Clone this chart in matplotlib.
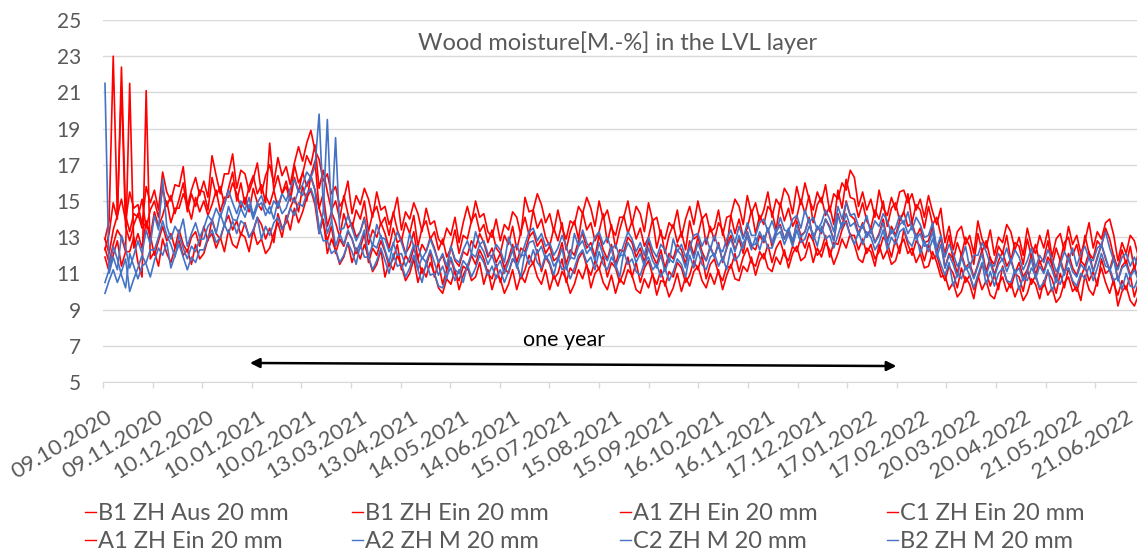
import numpy as np
import matplotlib
matplotlib.use("Agg")
import matplotlib.pyplot as plt
from matplotlib.lines import Line2D
from matplotlib.ticker import FixedLocator, NullFormatter

plt.rcParams['font.family'] = ['Lato', 'DejaVu Sans']

# readings every 2.5 days starting 09.10.2020
step_days = 2.5
tick_labels = ['09.10.2020', '09.11.2020', '10.12.2020', '10.01.2021', '10.02.2021',
               '13.03.2021', '13.04.2021', '14.05.2021', '14.06.2021', '15.07.2021',
               '15.08.2021', '15.09.2021', '16.10.2021', '16.11.2021', '17.12.2021',
               '17.01.2022', '17.02.2022', '20.03.2022', '20.04.2022', '21.05.2022',
               '21.06.2022']
label_step = 31

names = ['B1 ZH Aus 20 mm', 'B1 ZH Ein 20 mm', 'A1 ZH Ein 20 mm', 'C1 ZH Ein 20 mm',
         'A1 ZH Ein 20 mm', 'A2 ZH M 20 mm', 'C2 ZH M 20 mm', 'B2 ZH M 20 mm']

b1_aus = [12.9, 13.9, 23.0, 14.2, 15.1, 13.9, 15.5, 14.6, 14.8, 13.7, 15.8, 14.9,
          15.6, 14.5, 16.6, 15.5, 15.0, 15.9, 15.8, 16.9, 14.7, 15.6, 16.3, 15.3,
          16.1, 15.2, 17.5, 16.4, 15.4, 16.5, 16.5, 17.6, 15.7, 16.7, 16.5, 15.5,
          16.2, 17.1, 15.4, 16.4, 17.0, 16.0, 17.4, 16.4, 16.9, 15.9, 17.1, 18.0,
          17.2, 18.2, 18.9, 17.8, 17.3, 16.1, 16.5, 15.4, 15.8, 14.7, 15.1, 16.1,
          14.3, 15.3, 14.8, 15.7, 15.1, 14.1, 15.5, 14.5, 14.7, 13.7, 14.2, 15.2,
          13.4, 14.4, 14.0, 14.9, 14.3, 13.3, 14.6, 13.7, 13.9, 12.9, 12.6, 13.5,
          13.1, 14.1, 12.7, 13.8, 14.7, 13.8, 15.0, 14.1, 14.3, 13.3, 13.0, 14.0,
          12.8, 13.7, 13.4, 14.4, 14.1, 13.1, 15.2, 14.4, 14.5, 15.4, 14.8, 13.8,
          14.3, 13.3, 14.5, 13.5, 12.9, 13.9, 13.7, 14.7, 14.3, 15.2, 14.6, 13.6,
          15.0, 14.0, 14.5, 13.5, 13.1, 14.1, 14.1, 15.0, 13.7, 14.7, 14.3, 13.3,
          14.9, 13.9, 14.1, 13.1, 12.9, 13.8, 13.5, 14.5, 13.0, 14.0, 14.7, 13.7,
          15.0, 14.0, 14.3, 13.3, 13.5, 14.5, 13.1, 14.1, 14.2, 15.1, 14.7, 13.7,
          15.3, 14.3, 14.9, 13.9, 14.5, 15.5, 14.1, 15.1, 14.7, 15.7, 15.3, 14.3,
          15.8, 14.8, 16.0, 15.1, 14.5, 15.5, 14.9, 15.9, 14.4, 15.4, 15.1, 16.0,
          15.6, 16.7, 16.3, 14.7, 15.5, 14.5, 15.1, 14.1, 15.6, 14.6, 14.2, 15.2,
          14.5, 15.5, 15.6, 14.9, 15.4, 14.5, 15.1, 14.1, 15.3, 14.4, 13.7, 14.6,
          12.7, 13.6, 12.3, 13.3, 13.6, 12.6, 13.1, 12.1, 13.9, 12.9, 12.4, 13.4,
          12.0, 13.0, 12.7, 13.7, 13.3, 12.3, 13.0, 12.0, 13.5, 12.5, 12.1, 13.1,
          12.4, 13.4, 11.9, 12.9, 13.2, 12.2, 13.6, 12.6, 13.1, 12.1, 12.8, 13.8,
          12.4, 13.3, 12.9, 13.8, 14.0, 13.1, 11.7, 12.7, 12.1, 13.1, 12.8, 11.9]

b1_ein = [12.3, 13.2, 14.9, 14.0, 22.4, 14.2, 13.3, 14.3, 14.1, 15.1, 13.5, 14.5,
          15.0, 14.1, 15.7, 14.7, 15.3, 14.3, 15.1, 16.0, 14.4, 15.4, 14.7, 15.6,
          15.5, 14.5, 16.3, 15.3, 15.8, 14.8, 15.7, 16.6, 15.0, 16.0, 14.8, 15.8,
          16.4, 15.4, 15.9, 14.9, 18.2, 15.6, 16.4, 15.4, 16.1, 15.1, 17.0, 16.0,
          16.5, 17.5, 17.0, 18.1, 15.7, 16.7, 15.5, 14.5, 15.0, 14.0, 15.3, 14.3,
          13.5, 14.5, 14.0, 15.0, 13.3, 14.3, 14.7, 13.7, 14.1, 13.1, 14.4, 13.4,
          12.8, 13.8, 13.2, 14.2, 12.5, 13.5, 13.9, 12.9, 13.3, 12.3, 12.9, 11.9,
          12.4, 13.4, 12.1, 13.1, 12.9, 13.9, 14.3, 13.3, 13.7, 12.7, 13.4, 12.4,
          12.1, 13.1, 12.6, 13.6, 12.3, 13.3, 14.1, 13.1, 14.5, 13.5, 14.0, 13.0,
          12.5, 13.5, 12.8, 13.8, 12.3, 13.3, 13.9, 12.9, 14.4, 13.4, 13.8, 12.8,
          13.3, 14.3, 12.7, 13.7, 12.4, 13.4, 14.2, 13.2, 13.9, 12.9, 13.5, 12.5,
          13.0, 14.0, 12.4, 13.4, 12.1, 13.1, 13.7, 12.7, 13.3, 12.3, 13.9, 12.9,
          13.1, 14.1, 12.6, 13.6, 12.8, 13.8, 13.4, 12.4, 14.2, 13.2, 14.0, 13.0,
          13.5, 14.5, 13.2, 14.2, 13.7, 14.7, 14.4, 13.4, 14.9, 13.9, 14.6, 13.6,
          14.1, 15.1, 14.3, 15.3, 13.8, 14.8, 15.2, 14.2, 14.7, 13.7, 15.6, 14.6,
          16.2, 15.2, 15.1, 14.1, 14.9, 13.9, 13.5, 14.5, 14.0, 15.0, 13.6, 14.6,
          14.9, 13.9, 14.4, 15.4, 13.8, 14.8, 14.5, 13.5, 14.7, 13.7, 14.1, 13.1,
          12.1, 13.1, 11.7, 12.7, 12.0, 13.0, 12.5, 11.5, 13.2, 12.2, 12.8, 11.8,
          11.5, 12.5, 12.1, 13.1, 11.7, 12.7, 12.5, 11.5, 12.9, 11.9, 12.6, 11.6,
          11.8, 12.8, 11.4, 12.4, 11.7, 12.7, 13.0, 12.0, 12.6, 11.6, 13.1, 12.1,
          11.8, 12.8, 12.5, 13.5, 12.9, 11.9, 11.3, 12.3, 11.5, 12.5, 11.2, 12.2]

a1_ein = [12.9, 12.1, 13.4, 14.2, 21.3, 13.6, 12.8, 13.7, 14.3, 13.5, 13.8, 13.0,
          14.4, 13.6, 14.2, 15.0, 13.8, 14.6, 14.6, 15.4, 14.8, 14.0, 15.2, 14.4,
          15.0, 14.2, 14.8, 15.6, 14.4, 15.2, 15.2, 16.0, 15.4, 14.6, 15.2, 14.4,
          15.7, 14.9, 14.5, 15.3, 14.8, 15.6, 14.6, 15.4, 15.8, 15.0, 16.3, 15.5,
          16.6, 15.8, 16.4, 17.2, 14.6, 15.4, 13.6, 14.4, 13.8, 13.0, 14.3, 13.5,
          13.8, 13.0, 13.3, 14.1, 12.6, 13.4, 13.0, 13.8, 13.2, 12.4, 13.5, 12.7,
          12.9, 12.1, 12.5, 13.3, 11.8, 12.6, 12.2, 13.0, 12.4, 11.6, 12.0, 11.2,
          12.5, 11.7, 11.4, 12.2, 12.0, 12.8, 12.4, 13.2, 12.7, 11.9, 12.4, 11.6,
          12.1, 11.3, 11.8, 12.6, 11.6, 12.4, 12.2, 13.0, 13.3, 12.5, 12.9, 12.1,
          12.5, 11.7, 11.9, 12.7, 11.5, 12.3, 12.0, 12.8, 13.2, 12.4, 12.7, 11.9,
          13.1, 12.3, 11.8, 12.6, 11.5, 12.3, 12.2, 13.0, 12.7, 11.9, 12.4, 11.6,
          12.8, 12.0, 11.5, 12.3, 11.3, 12.1, 11.8, 12.6, 12.3, 11.5, 12.8, 12.0,
          13.0, 12.2, 11.7, 12.5, 11.9, 12.7, 11.6, 12.4, 13.1, 12.3, 12.9, 12.1,
          13.3, 12.5, 12.3, 13.1, 12.7, 13.5, 12.5, 13.3, 13.7, 12.9, 13.4, 12.6,
          13.9, 13.1, 13.3, 14.1, 12.8, 13.6, 13.2, 14.0, 13.6, 12.8, 14.3, 13.5,
          15.0, 14.2, 14.0, 13.2, 13.8, 13.0, 13.5, 12.7, 13.2, 14.0, 12.8, 13.6,
          13.1, 13.9, 14.4, 13.6, 13.8, 13.0, 13.5, 12.7, 12.8, 13.6, 12.2, 13.0,
          11.3, 12.1, 11.8, 11.0, 12.1, 11.3, 11.6, 10.8, 11.5, 12.3, 11.1, 11.9,
          10.9, 11.7, 12.2, 11.4, 11.8, 11.0, 11.6, 10.8, 11.2, 12.0, 10.9, 11.7,
          11.1, 11.9, 11.5, 10.7, 11.8, 11.0, 12.1, 11.3, 10.9, 11.7, 11.4, 12.2,
          11.1, 11.9, 12.6, 11.8, 11.2, 12.0, 10.6, 11.4, 11.7, 10.9, 11.4, 10.6]

c1_ein = [12.4, 11.6, 12.6, 13.4, 13.0, 12.2, 21.5, 12.4, 13.2, 12.4, 13.9, 13.1,
          12.0, 12.8, 13.6, 12.8, 13.2, 12.4, 13.4, 12.6, 12.2, 13.0, 13.3, 12.5,
          13.6, 12.8, 14.0, 13.2, 12.9, 13.7, 14.2, 13.4, 13.9, 13.1, 13.8, 13.0,
          13.3, 14.1, 13.7, 12.9, 13.5, 12.7, 14.3, 13.5, 13.8, 14.6, 15.2, 14.4,
          15.8, 15.0, 16.4, 15.6, 14.6, 13.8, 12.8, 13.6, 12.1, 12.9, 12.5, 13.3,
          12.9, 12.1, 12.4, 13.2, 11.6, 12.4, 12.0, 12.8, 12.2, 11.4, 11.8, 12.6,
          11.2, 12.0, 11.6, 12.4, 11.8, 11.0, 11.4, 12.2, 10.8, 11.6, 10.4, 11.2,
          11.8, 11.0, 10.6, 11.4, 11.2, 12.0, 11.5, 12.3, 11.8, 11.0, 10.7, 11.5,
          10.5, 11.3, 11.0, 11.8, 11.5, 10.7, 11.2, 12.0, 11.5, 12.3, 11.1, 11.9,
          11.5, 10.7, 11.0, 11.8, 10.5, 11.3, 11.0, 11.8, 12.2, 11.4, 10.9, 11.7,
          11.2, 12.0, 10.8, 11.6, 11.3, 10.5, 11.1, 11.9, 10.8, 11.6, 10.5, 11.3,
          11.7, 10.9, 10.4, 11.2, 10.3, 11.1, 10.8, 11.6, 11.3, 10.5, 10.9, 11.7,
          11.2, 12.0, 10.7, 11.5, 11.8, 11.0, 10.6, 11.4, 11.3, 12.1, 11.1, 11.9,
          12.4, 11.6, 11.4, 12.2, 11.8, 12.6, 11.6, 12.4, 12.8, 12.0, 11.7, 12.5,
          12.2, 13.0, 12.4, 13.2, 12.8, 12.0, 12.3, 13.1, 11.9, 12.7, 12.6, 13.4,
          13.9, 13.1, 13.1, 12.3, 12.9, 12.1, 12.6, 11.8, 12.2, 13.0, 12.7, 11.9,
          12.9, 12.1, 13.4, 12.6, 12.0, 12.8, 12.5, 11.7, 12.6, 11.8, 12.0, 11.2,
          10.6, 11.4, 11.0, 10.2, 11.3, 10.5, 10.9, 10.1, 10.7, 11.5, 11.1, 10.3,
          10.9, 10.1, 11.4, 10.6, 10.2, 11.0, 10.8, 10.0, 11.2, 10.4, 10.9, 10.1,
          10.3, 11.1, 10.7, 9.9, 11.0, 10.2, 11.3, 10.5, 10.0, 10.8, 11.4, 10.6,
          11.1, 10.3, 11.8, 11.0, 11.2, 10.4, 9.8, 10.6, 10.1, 10.9, 9.7, 10.5]

a1_ein_2 = [11.9, 11.1, 12.0, 12.8, 11.4, 12.2, 12.2, 13.0, 11.6, 10.8, 21.1, 11.8,
            12.2, 11.4, 12.9, 12.1, 11.6, 12.4, 12.8, 12.0, 12.3, 11.5, 12.6, 11.8,
            12.1, 12.9, 13.2, 12.4, 13.0, 12.2, 13.4, 12.6, 12.4, 13.2, 13.0, 12.2,
            13.4, 12.6, 12.9, 12.1, 12.4, 13.2, 13.8, 13.0, 14.2, 13.4, 14.6, 13.8,
            14.4, 15.2, 15.6, 14.8, 13.2, 14.0, 12.1, 12.9, 12.3, 11.5, 11.9, 12.7,
            11.6, 12.4, 11.8, 12.6, 11.9, 11.1, 11.5, 12.3, 10.8, 11.6, 11.2, 12.0,
            11.4, 10.6, 11.0, 11.8, 10.5, 11.3, 10.8, 11.6, 11.0, 10.2, 9.9, 10.7,
            10.4, 11.2, 10.1, 10.9, 11.4, 10.6, 10.8, 11.6, 10.4, 11.2, 10.1, 10.9,
            10.7, 9.9, 10.4, 11.2, 10.1, 10.9, 10.5, 11.3, 11.6, 10.8, 10.4, 11.2,
            10.1, 10.9, 10.3, 11.1, 10.7, 9.9, 10.4, 11.2, 10.7, 11.5, 10.2, 11.0,
            11.3, 10.5, 10.1, 10.9, 9.9, 10.7, 10.4, 11.2, 10.9, 10.1, 9.9, 10.7,
            10.2, 11.0, 9.8, 10.6, 10.5, 9.7, 10.2, 11.0, 10.0, 10.8, 10.3, 11.1,
            11.4, 10.6, 10.2, 11.0, 10.4, 11.2, 10.1, 10.9, 11.5, 10.7, 10.6, 11.4,
            11.1, 11.9, 10.9, 11.7, 12.1, 11.3, 11.1, 11.9, 11.5, 12.3, 11.3, 12.1,
            12.5, 11.7, 11.9, 12.7, 11.6, 12.4, 11.9, 12.7, 12.3, 11.5, 12.1, 12.9,
            12.4, 13.2, 12.6, 11.8, 11.6, 12.4, 12.2, 11.4, 12.6, 11.8, 12.3, 11.5,
            11.7, 12.5, 12.9, 12.1, 12.4, 11.6, 12.1, 11.3, 11.4, 12.2, 11.6, 10.8,
            10.9, 10.1, 10.5, 9.7, 10.0, 10.8, 10.4, 9.6, 10.9, 10.1, 10.6, 9.8,
            9.6, 10.4, 10.8, 10.0, 10.5, 9.7, 10.3, 9.5, 9.9, 10.7, 10.4, 9.6,
            10.6, 9.8, 10.2, 9.4, 9.7, 10.5, 10.8, 10.0, 10.3, 9.5, 10.9, 10.1,
            9.8, 10.6, 11.3, 10.5, 9.9, 10.7, 9.2, 10.0, 10.3, 9.5, 9.2, 9.8]

a2_m = [21.5, 11.0, 11.9, 11.2, 13.1, 12.4, 11.3, 12.0, 12.8, 12.1, 13.4, 12.6,
        14.2, 13.4, 16.2, 13.6, 12.9, 13.6, 13.2, 14.0, 12.5, 13.2, 13.8, 13.0,
        13.5, 14.2, 13.9, 14.6, 14.1, 14.8, 15.6, 14.9, 14.3, 15.0, 14.5, 15.2,
        14.2, 14.9, 15.3, 14.6, 14.3, 15.0, 14.7, 15.4, 15.0, 15.7, 16.2, 15.5,
        15.9, 16.6, 16.3, 16.9, 19.8, 14.8, 13.2, 13.9, 18.5, 13.4, 13.5, 14.2,
        13.5, 12.8, 13.3, 14.0, 13.2, 12.5, 13.7, 13.0, 12.9, 12.2, 12.6, 13.3,
        12.7, 12.0, 13.2, 12.5, 12.5, 11.8, 12.2, 12.9, 12.3, 11.6, 12.1, 11.4,
        12.5, 11.8, 11.6, 12.3, 12.8, 12.1, 13.3, 12.6, 12.8, 12.1, 11.9, 12.6,
        12.3, 11.6, 13.0, 12.3, 12.6, 11.9, 12.6, 13.3, 13.5, 12.8, 13.2, 12.5,
        12.7, 12.0, 12.4, 13.1, 12.5, 11.8, 13.2, 12.5, 13.4, 12.7, 12.3, 13.0,
        13.3, 12.6, 13.0, 12.3, 12.6, 11.9, 12.6, 13.3, 12.9, 12.2, 12.7, 12.0,
        13.0, 12.3, 11.9, 12.6, 12.3, 11.6, 12.9, 12.2, 12.6, 11.9, 12.4, 13.1,
        13.2, 12.5, 13.0, 12.3, 13.1, 12.4, 12.2, 12.9, 13.4, 12.7, 13.6, 12.9,
        13.8, 13.1, 13.1, 13.8, 14.0, 13.3, 13.9, 13.2, 14.1, 13.4, 13.3, 14.0,
        14.2, 13.5, 14.5, 13.8, 14.1, 13.4, 13.8, 14.5, 14.0, 13.3, 14.7, 14.0,
        14.9, 14.2, 14.3, 13.6, 13.5, 14.2, 13.2, 13.9, 13.6, 14.3, 13.9, 13.2,
        13.5, 14.2, 13.7, 14.4, 13.4, 14.1, 13.7, 13.0, 13.1, 13.8, 12.4, 13.1,
        11.9, 12.6, 12.1, 11.4, 11.8, 12.5, 11.3, 12.0, 12.0, 12.7, 12.2, 11.5,
        11.4, 12.1, 11.7, 12.4, 11.6, 12.3, 11.9, 11.2, 11.7, 12.4, 11.3, 12.0,
        11.6, 12.3, 11.8, 11.1, 11.5, 12.2, 11.7, 12.4, 11.4, 12.1, 12.5, 11.8,
        11.7, 12.4, 12.6, 13.3, 12.4, 11.7, 11.2, 11.9, 12.1, 11.4, 11.9, 11.3]

c2_m = [10.5, 11.2, 12.5, 11.8, 10.9, 10.2, 12.1, 11.4, 10.7, 11.4, 11.6, 12.3,
        12.3, 13.0, 13.9, 13.1, 12.6, 11.9, 13.1, 12.4, 11.8, 12.5, 12.2, 12.9,
        12.9, 13.6, 13.9, 13.2, 14.3, 13.6, 14.7, 14.0, 13.9, 14.6, 14.1, 14.8,
        14.0, 14.7, 14.9, 14.2, 14.7, 14.0, 15.0, 14.3, 14.6, 15.3, 14.9, 15.6,
        15.3, 16.0, 16.3, 15.6, 13.2, 14.4, 19.5, 14.0, 12.5, 13.2, 12.6, 13.4,
        12.9, 12.2, 12.7, 13.4, 11.9, 12.6, 12.4, 13.1, 12.3, 11.6, 12.7, 12.0,
        12.1, 11.4, 11.9, 12.6, 11.2, 11.9, 11.6, 12.3, 11.6, 10.9, 11.4, 10.7,
        11.9, 11.2, 11.0, 11.7, 11.4, 12.1, 11.9, 12.6, 12.2, 11.5, 12.0, 11.3,
        11.7, 11.0, 11.6, 12.3, 11.3, 12.0, 12.0, 12.7, 12.8, 12.1, 12.5, 11.8,
        12.1, 11.4, 11.7, 12.4, 11.2, 11.9, 11.8, 12.5, 12.8, 12.1, 12.4, 11.7,
        12.7, 12.0, 11.7, 12.4, 11.3, 12.0, 12.0, 12.7, 12.3, 11.6, 12.1, 11.4,
        12.4, 11.7, 11.3, 12.0, 11.1, 11.8, 11.6, 12.3, 12.0, 11.3, 12.5, 11.8,
        12.7, 12.0, 11.7, 12.4, 11.9, 12.6, 11.7, 12.4, 12.9, 12.2, 13.1, 12.4,
        13.3, 12.6, 12.6, 13.3, 12.8, 13.5, 12.7, 13.4, 13.6, 12.9, 13.5, 12.8,
        13.7, 13.0, 13.3, 14.0, 12.9, 13.6, 13.3, 14.0, 13.5, 12.8, 14.2, 13.5,
        14.3, 13.6, 13.8, 13.1, 13.7, 13.0, 13.4, 12.7, 13.1, 13.8, 12.7, 13.4,
        13.0, 13.7, 13.9, 13.2, 13.6, 12.9, 13.2, 12.5, 12.6, 13.3, 11.9, 12.6,
        11.3, 12.0, 11.5, 10.8, 11.9, 11.2, 11.4, 10.7, 11.4, 12.1, 10.9, 11.6,
        10.8, 11.5, 11.8, 11.1, 11.7, 11.0, 11.3, 10.6, 11.1, 11.8, 10.7, 11.4,
        11.0, 11.7, 11.2, 10.5, 11.6, 10.9, 11.8, 11.1, 10.8, 11.5, 11.2, 11.9,
        11.1, 11.8, 12.6, 11.9, 11.1, 11.8, 10.6, 11.3, 11.5, 10.8, 11.2, 10.6]

b2_m = [9.9, 10.6, 11.2, 10.5, 11.1, 11.8, 10.0, 10.7, 11.3, 12.0, 11.5, 10.8,
        11.7, 12.4, 12.0, 12.7, 11.3, 12.0, 12.6, 11.9, 11.2, 11.9, 11.6, 12.3,
        12.3, 13.0, 13.4, 12.7, 13.0, 13.7, 13.2, 13.9, 13.2, 13.9, 13.7, 13.0,
        13.4, 14.1, 12.9, 13.6, 13.1, 13.8, 14.1, 13.4, 13.9, 14.6, 14.2, 14.9,
        14.7, 15.4, 15.7, 15.0, 13.6, 12.8, 12.8, 12.1, 12.3, 11.6, 12.0, 12.7,
        12.2, 11.5, 12.6, 11.9, 11.9, 11.2, 11.7, 12.4, 11.7, 11.0, 12.1, 11.4,
        11.5, 10.8, 11.3, 12.0, 11.2, 10.5, 11.6, 10.9, 11.0, 10.3, 10.2, 10.9,
        11.3, 10.6, 11.2, 10.5, 11.5, 10.8, 11.3, 12.0, 11.6, 10.9, 11.4, 10.7,
        11.2, 10.5, 11.1, 11.8, 11.5, 10.8, 12.2, 11.5, 12.3, 11.6, 11.3, 12.0,
        11.6, 10.9, 11.9, 11.2, 11.4, 10.7, 11.3, 12.0, 12.3, 11.6, 11.9, 11.2,
        12.2, 11.5, 11.2, 11.9, 11.5, 10.8, 12.2, 11.5, 11.8, 11.1, 10.9, 11.6,
        11.9, 11.2, 11.5, 10.8, 11.3, 10.6, 11.1, 11.8, 11.5, 10.8, 12.0, 11.3,
        12.2, 11.5, 11.2, 11.9, 12.1, 11.4, 11.9, 11.2, 12.4, 11.7, 12.0, 12.7,
        13.0, 12.3, 13.0, 12.3, 13.1, 12.4, 12.4, 13.1, 13.3, 12.6, 13.2, 12.5,
        13.4, 12.7, 12.9, 13.6, 13.2, 12.5, 13.6, 12.9, 13.1, 12.4, 13.1, 13.8,
        13.8, 13.1, 12.6, 13.3, 12.6, 13.3, 13.0, 12.3, 12.7, 13.4, 12.3, 13.0,
        12.6, 13.3, 13.5, 12.8, 12.5, 13.2, 12.1, 12.8, 12.2, 12.9, 12.2, 11.5,
        10.9, 11.6, 10.3, 11.0, 10.7, 11.4, 10.9, 10.2, 10.9, 11.6, 10.4, 11.1,
        10.3, 11.0, 11.3, 10.6, 10.5, 11.2, 10.1, 10.8, 10.6, 11.3, 10.9, 10.2,
        10.5, 11.2, 10.0, 10.7, 10.4, 11.1, 11.3, 10.6, 10.3, 11.0, 10.7, 11.4,
        10.6, 11.3, 12.1, 11.4, 11.3, 10.6, 10.8, 10.1, 11.0, 10.3, 10.2, 10.8]

series = [b1_aus, b1_ein, a1_ein, c1_ein, a1_ein_2, a2_m, c2_m, b2_m]
colors = ['#FF0000'] * 5 + ['#4472C4'] * 3

fig = plt.figure(figsize=(11.37, 5.54), dpi=100)
ax = fig.add_axes([0.0906, 0.3105, 0.9094, 0.6534])

for vals, c, name in zip(series, colors, names):
    days = np.arange(len(vals)) * step_days
    ax.plot(days, vals, color=c, lw=1.2, label=name)

ax.set_ylim(5, 25)
ax.set_xlim(-1.2, 626.6)
ax.set_yticks(np.arange(5, 26, 2))
ax.yaxis.grid(True, color='#D9D9D9', lw=1)
ax.set_axisbelow(True)
for s in ['top', 'right', 'left']:
    ax.spines[s].set_visible(False)
ax.spines['bottom'].set_color('#D9D9D9')
ax.tick_params(axis='y', length=0, pad=16, labelsize=15, labelcolor='#595959')

label_pos = np.arange(len(tick_labels)) * label_step
ax.set_xticks(label_pos)
ax.set_xticklabels(tick_labels, rotation=31, ha='right', va='top',
                   rotation_mode='anchor', fontsize=16, color='#595959')
ax.tick_params(axis='x', which='major', length=0, pad=18)
ax.xaxis.set_minor_locator(FixedLocator(-1.2 + 30.12 * np.arange(21)))
ax.xaxis.set_minor_formatter(NullFormatter())
ax.tick_params(axis='x', which='minor', length=4, color='#D9D9D9', width=1)

ax.text(311, 23.75, 'Wood moisture[M.-%] in the LVL layer', ha='center', va='center',
        fontsize=17, color='#595959')

ax.annotate('', xy=(480.5, 5.88), xytext=(88, 6.05),
            arrowprops=dict(arrowstyle='<|-|>', color='black', lw=1.8,
                            mutation_scale=14, shrinkA=0, shrinkB=0))
ax.text(279, 7.3, 'one year', ha='center', va='center', fontsize=15.5, color='black')

# legend: 4 equal-width columns, thin handles
handles = [Line2D([], [], color=c, lw=1.0) for c in colors]
col_x = [85, 352, 620, 887]
for k, x in enumerate(col_x):
    fig.legend(handles=[handles[k], handles[k + 4]], labels=[names[k], names[k + 4]],
               loc='upper left', bbox_to_anchor=(x / 1137, 1 - 503 / 554), frameon=False,
               handlelength=0.45, handletextpad=0.1, borderpad=0, borderaxespad=0,
               labelspacing=0.3, fontsize=17, labelcolor='#595959')

fig.savefig('out.png', dpi=100)
